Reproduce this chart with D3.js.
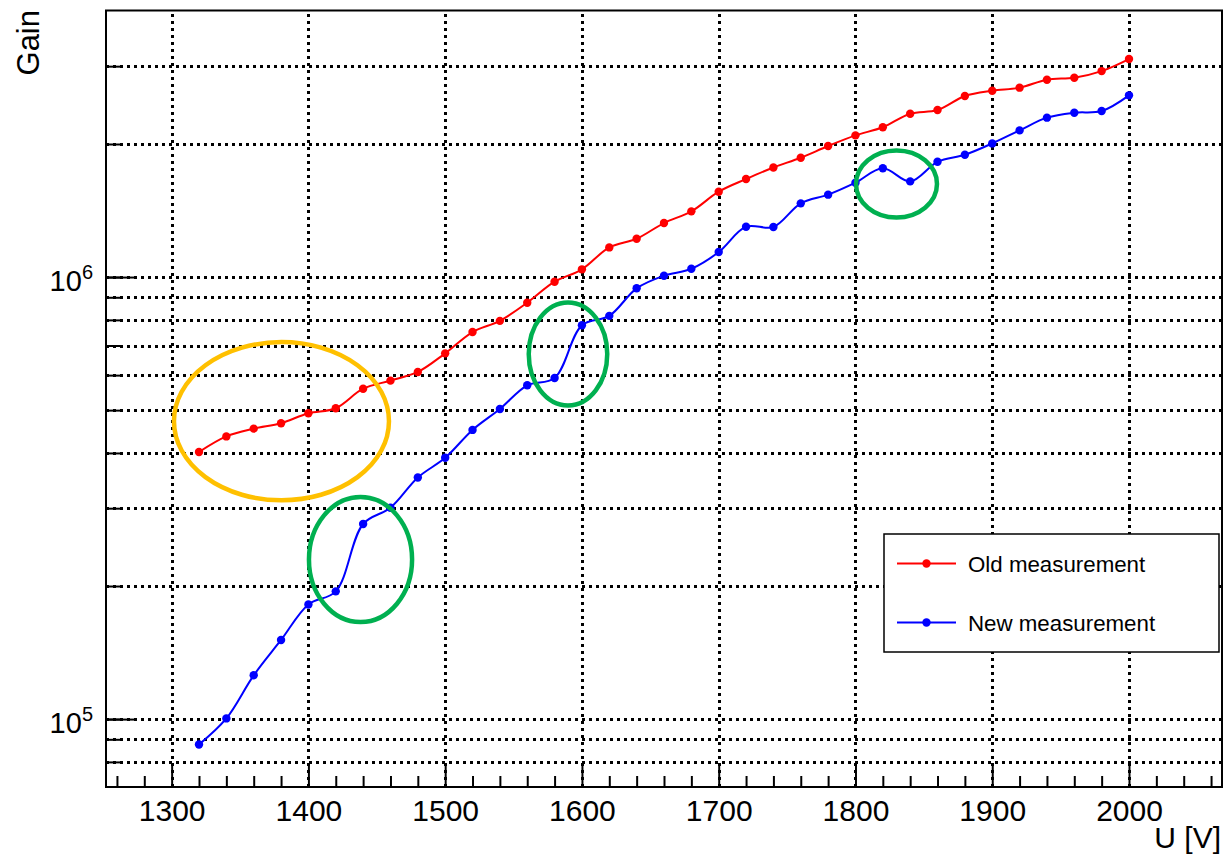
<!DOCTYPE html>
<html>
<head>
<meta charset="utf-8">
<script src="https://cdn.jsdelivr.net/npm/d3@7"></script>
<style>
  html, body { margin: 0; padding: 0; background: #fff; }
  svg { display: block; font-family: "Liberation Sans", Arial, Helvetica, sans-serif; }
</style>
</head>
<body>
<svg id="chart" width="1229" height="857"></svg>
<script>
// Supply voltage of each measurement point [V]
const voltages = [1320, 1340, 1360, 1380, 1400, 1420, 1440, 1460, 1480, 1500,
                  1520, 1540, 1560, 1580, 1600, 1620, 1640, 1660, 1680, 1700,
                  1720, 1740, 1760, 1780, 1800, 1820, 1840, 1860, 1880, 1900,
                  1920, 1940, 1960, 1980, 2000];

// Gain, old measurement
const oldGain = [4.02e5, 4.36e5, 4.54e5, 4.67e5, 4.92e5, 5.05e5, 5.59e5, 5.83e5, 6.10e5, 6.72e5,
                 7.51e5, 7.96e5, 8.75e5, 9.76e5, 1.041e6, 1.167e6, 1.221e6, 1.325e6, 1.408e6, 1.560e6,
                 1.666e6, 1.770e6, 1.862e6, 1.979e6, 2.092e6, 2.182e6, 2.342e6, 2.387e6, 2.568e6, 2.640e6,
                 2.682e6, 2.796e6, 2.825e6, 2.924e6, 3.113e6];

// Gain, new measurement
const newGain = [8.76e4, 1.0035e5, 1.256e5, 1.51e5, 1.817e5, 1.945e5, 2.763e5, 3.007e5, 3.52e5, 3.90e5,
                 4.51e5, 5.03e5, 5.69e5, 5.91e5, 7.78e5, 8.17e5, 9.43e5, 1.007e6, 1.044e6, 1.139e6,
                 1.300e6, 1.298e6, 1.468e6, 1.536e6, 1.635e6, 1.762e6, 1.646e6, 1.823e6, 1.891e6, 2.006e6,
                 2.147e6, 2.294e6, 2.354e6, 2.375e6, 2.577e6];

const seriesNames = ["Old measurement", "New measurement"];

// Axis ticks
const xMajorTicks = [1300, 1400, 1500, 1600, 1700, 1800, 1900, 2000];
const xMinorTicks = [1260, 1280, 1320, 1340, 1360, 1380, 1420, 1440, 1460, 1480,
                     1520, 1540, 1560, 1580, 1620, 1640, 1660, 1680, 1720, 1740,
                     1760, 1780, 1820, 1840, 1860, 1880, 1920, 1940, 1960, 1980,
                     2020, 2040, 2060];
const yGridTicks = [8e4, 9e4, 1e5, 2e5, 3e5, 4e5, 5e5, 6e5, 7e5, 8e5, 9e5, 1e6, 2e6, 3e6];
const yLabelTicks = [1e5, 1e6];
const yLabelExponents = ["5", "6"];

// Highlighted regions: centre (voltage, gain), half-width in volts, half-height in decades
const highlightU = [1380.3, 1438.1, 1589.8, 1830.0];
const highlightGain = [4.72e5, 2.296e5, 6.70e5, 1.624e6];
const highlightHalfU = [78.6, 37.7, 28.7, 29.6];
const highlightHalfDecades = [0.179, 0.1414, 0.1165, 0.0758];
const highlightKind = ["warn", "step", "step", "step"];

// ---------- layout ----------
const frame = { left: 106, right: 1222, top: 10.5, bottom: 787 };
const colors = { old: "#ff0000", neu: "#0000ff", warn: "#ffc000", step: "#00b050" };
const labelFont = "'Liberation Sans', Arial, sans-serif";

const svg = d3.select("#chart");

const x = d3.scaleLinear().domain([1252, 2068]).range([frame.left, frame.right]);
const y = d3.scaleLog().domain([7.02e4, 4.009e6]).range([frame.bottom, frame.top]);

// snap a coordinate to the pixel centre so the dotted grid stays crisp
const snap = v => Math.round(v) + 0.5;

// ---------- grid ----------
const grid = svg.append("g").attr("class", "grid")
  .attr("stroke", "#000").attr("stroke-width", 3).attr("stroke-dasharray", "3 4");

grid.selectAll("line.v").data(xMajorTicks).join("line")
  .attr("class", "v")
  .attr("x1", d => snap(x(d))).attr("x2", d => snap(x(d)))
  .attr("y1", frame.bottom).attr("y2", frame.top);

grid.selectAll("line.h").data(yGridTicks).join("line")
  .attr("class", "h")
  .attr("y1", d => snap(y(d))).attr("y2", d => snap(y(d)))
  .attr("x1", frame.left).attr("x2", frame.right);

// ---------- axes ----------
function styleAxis(g) {
  g.select(".domain").remove();
  g.selectAll(".tick line").attr("stroke", "#000").attr("stroke-width", 2);
}

// bottom: minor then major ticks
svg.append("g")
  .attr("transform", `translate(0,${frame.bottom})`)
  .call(d3.axisBottom(x).tickValues(xMinorTicks).tickSize(-11).tickSizeOuter(0).tickFormat(""))
  .call(styleAxis);

svg.append("g")
  .attr("transform", `translate(0,${frame.bottom})`)
  .call(d3.axisBottom(x).tickValues(xMajorTicks).tickSize(-22).tickSizeOuter(0)
        .tickPadding(13).tickFormat(d3.format("d")))
  .call(styleAxis)
  .call(g => g.selectAll(".tick text")
    .attr("font-size", 30).attr("fill", "#000").attr("font-family", labelFont));

// left: grid-level ticks then labelled decades
svg.append("g")
  .attr("transform", `translate(${frame.left},0)`)
  .call(d3.axisLeft(y).tickValues(yGridTicks).tickSize(-14).tickSizeOuter(0).tickFormat(""))
  .call(styleAxis);

const yMajor = svg.append("g")
  .attr("transform", `translate(${frame.left},0)`)
  .call(d3.axisLeft(y).tickValues(yLabelTicks).tickSize(-31).tickSizeOuter(0).tickPadding(13).tickFormat(""))
  .call(styleAxis);

yMajor.selectAll(".tick text").each(function(d, i) {
  const t = d3.select(this)
    .attr("font-size", 29).attr("fill", "#000").attr("dy", "0.46em")
    .attr("font-family", labelFont);
  t.append("tspan").text("10");
  t.append("tspan").attr("font-size", 20).attr("dy", -12).text(yLabelExponents[i]);
});

// ---------- series ----------
const series = [
  { name: seriesNames[0], values: oldGain, color: colors.old },
  { name: seriesNames[1], values: newGain, color: colors.neu }
];

const line = d3.line()
  .x((d, i) => x(voltages[i]))
  .y(d => y(d))
  .curve(d3.curveCatmullRom.alpha(0.5));

const plot = svg.append("g").attr("class", "series");
series.forEach(s => {
  const g = plot.append("g");
  g.append("path")
    .attr("d", line(s.values))
    .attr("fill", "none")
    .attr("stroke", s.color)
    .attr("stroke-width", 2);
  g.selectAll("circle").data(s.values).join("circle")
    .attr("cx", (d, i) => x(voltages[i]))
    .attr("cy", d => y(d))
    .attr("r", 4.2)
    .attr("fill", s.color);
});

// ---------- highlighted regions ----------
svg.append("g").attr("class", "highlights")
  .selectAll("ellipse").data(highlightU).join("ellipse")
  .attr("cx", d => x(d))
  .attr("cy", (d, i) => y(highlightGain[i]))
  .attr("rx", (d, i) => x(d + highlightHalfU[i]) - x(d))
  .attr("ry", (d, i) => y(highlightGain[i]) - y(highlightGain[i] * Math.pow(10, highlightHalfDecades[i])))
  .attr("fill", "none")
  .attr("stroke", (d, i) => colors[highlightKind[i]])
  .attr("stroke-width", 4.5);

// ---------- frame ----------
svg.append("rect")
  .attr("x", frame.left).attr("y", frame.top)
  .attr("width", frame.right - frame.left).attr("height", frame.bottom - frame.top)
  .attr("fill", "none").attr("stroke", "#000").attr("stroke-width", 2);

// ---------- axis titles ----------
svg.append("text")
  .attr("transform", "translate(39,10) rotate(-90)")
  .attr("text-anchor", "end")
  .attr("font-size", 31)
  .text("Gain");

svg.append("text")
  .attr("x", 1221).attr("y", 848)
  .attr("text-anchor", "end")
  .attr("font-size", 30)
  .text("U [V]");

// ---------- legend ----------
const legend = svg.append("g").attr("class", "legend");
legend.append("rect")
  .attr("x", 884).attr("y", 534).attr("width", 335).attr("height", 118)
  .attr("fill", "#fff").attr("stroke", "#000").attr("stroke-width", 1.5);

const entryY = [563.5, 622.5];
series.forEach((s, i) => {
  const e = legend.append("g").attr("transform", `translate(0,${entryY[i]})`);
  e.append("line").attr("x1", 897).attr("x2", 956).attr("y1", 0).attr("y2", 0)
    .attr("stroke", s.color).attr("stroke-width", 2);
  e.append("circle").attr("cx", 926.5).attr("cy", 0).attr("r", 4.2).attr("fill", s.color);
  e.append("text").attr("x", 968).attr("y", 8).attr("font-size", 22.3).text(s.name);
});
</script>
</body>
</html>
